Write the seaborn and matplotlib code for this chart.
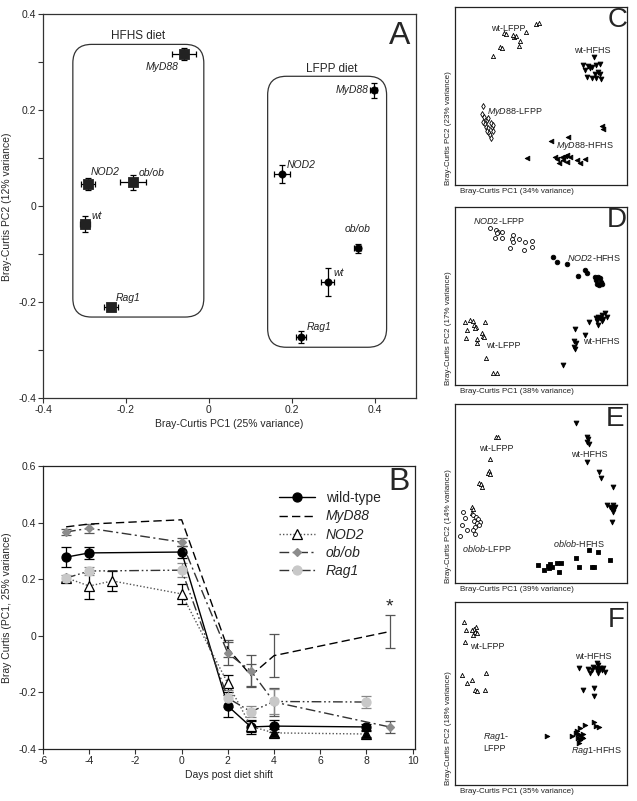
import pandas as pd
import seaborn as sns
import matplotlib.pyplot as plt
from matplotlib.patches import FancyBboxPatch
from matplotlib.lines import Line2D

sns.set_theme(style="ticks")
plt.rcParams['font.family'] = ['Liberation Sans', 'DejaVu Sans']
plt.rcParams['mathtext.fontset'] = 'custom'
plt.rcParams['mathtext.rm'] = 'Liberation Sans'
plt.rcParams['mathtext.it'] = 'Liberation Sans:italic'
plt.rcParams['axes.unicode_minus'] = False

# ---- panel A: centroids (mean +/- sem) ----
a_names = ['MyD88', 'NOD2', 'ob/ob', 'wt', 'Rag1']
hfhs_x = [-0.060, -0.292, -0.183, -0.299, -0.236]
hfhs_y = [0.317, 0.046, 0.050, -0.037, -0.210]
hfhs_xerr = [0.029, 0.017, 0.031, 0.012, 0.017]
hfhs_yerr = [0.012, 0.012, 0.016, 0.017, 0.006]
lfpp_x = [0.398, 0.176, 0.359, 0.287, 0.222]
lfpp_y = [0.242, 0.067, -0.088, -0.158, -0.273]
lfpp_xerr = [0.008, 0.019, 0.009, 0.016, 0.012]
lfpp_yerr = [0.016, 0.018, 0.010, 0.029, 0.013]

# ---- panel B: time course ----
days_wt = [-5, -4, 0, 2, 3, 4, 8]
wt_mean = [0.278, 0.293, 0.296, -0.248, -0.322, -0.319, -0.322]
wt_err = [0.035, 0.020, 0.020, 0.040, 0.025, 0.020, 0.010]
days_myd = [-5, -4, 0, 2, 3, 4, 9]
myd_mean = [0.385, 0.395, 0.410, -0.045, -0.140, -0.070, 0.015]
myd_err = [0.0, 0.0, 0.0, 0.030, 0.040, 0.075, 0.058]
days_nod = [-5, -4, -3, 0, 2, 3, 4, 8]
nod_mean = [0.205, 0.176, 0.194, 0.148, -0.168, -0.320, -0.343, -0.347]
nod_err = [0.0, 0.046, 0.034, 0.034, 0.030, 0.020, 0.015, 0.010]
days_ob = [-5, -4, 0, 2, 3, 4, 9]
ob_mean = [0.367, 0.380, 0.331, -0.062, -0.124, -0.234, -0.322]
ob_err = [0.010, 0.015, 0.015, 0.040, 0.055, 0.050, 0.020]
days_rag = [-5, -4, 0, 2, 3, 4, 8]
rag_mean = [0.204, 0.229, 0.232, -0.220, -0.268, -0.232, -0.234]
rag_err = [0.012, 0.015, 0.025, 0.030, 0.020, 0.045, 0.020]

# ---- panels C-F: individual samples ----
c_wt_lfpp_x = [0.469, 0.490, 0.413, 0.287, 0.345, 0.355, 0.378, 0.262, 0.271, 0.374, 0.223, 0.296, 0.340]
c_wt_lfpp_y = [0.904, 0.912, 0.861, 0.856, 0.833, 0.837, 0.811, 0.777, 0.768, 0.783, 0.725, 0.850, 0.845]
c_wt_hfhs_x = [0.808, 0.746, 0.775, 0.795, 0.820, 0.843, 0.756, 0.785, 0.833, 0.814, 0.843, 0.766, 0.795, 0.820, 0.847]
c_wt_hfhs_y = [0.717, 0.674, 0.669, 0.665, 0.674, 0.680, 0.646, 0.656, 0.637, 0.624, 0.624, 0.609, 0.600, 0.603, 0.598]
c_myd_lfpp_x = [0.161, 0.155, 0.169, 0.184, 0.194, 0.165, 0.174, 0.207, 0.180, 0.194, 0.213, 0.188, 0.200, 0.203, 0.207, 0.223, 0.219]
c_myd_lfpp_y = [0.444, 0.399, 0.380, 0.365, 0.375, 0.356, 0.343, 0.350, 0.328, 0.318, 0.324, 0.305, 0.294, 0.281, 0.262, 0.337, 0.305]
c_myd_hfhs_x = [0.853, 0.859, 0.659, 0.556, 0.420, 0.581, 0.595, 0.620, 0.640, 0.649, 0.669, 0.630, 0.649, 0.708, 0.727, 0.756, 0.607]
c_myd_hfhs_y = [0.331, 0.316, 0.272, 0.249, 0.150, 0.159, 0.144, 0.159, 0.163, 0.167, 0.159, 0.140, 0.131, 0.140, 0.122, 0.144, 0.125]

d_nod_lfpp_x = [0.203, 0.238, 0.252, 0.271, 0.233, 0.271, 0.335, 0.330, 0.339, 0.374, 0.407, 0.446, 0.320, 0.401, 0.446, 0.246]
d_nod_lfpp_y = [0.880, 0.871, 0.861, 0.861, 0.824, 0.824, 0.843, 0.819, 0.805, 0.819, 0.805, 0.811, 0.771, 0.758, 0.777, 0.852]
d_nod_hfhs_x = [0.572, 0.595, 0.649, 0.756, 0.766, 0.717, 0.814, 0.833, 0.843, 0.820, 0.847, 0.824, 0.839, 0.853]
d_nod_hfhs_y = [0.721, 0.693, 0.680, 0.646, 0.631, 0.612, 0.605, 0.608, 0.599, 0.590, 0.580, 0.567, 0.562, 0.567]
d_wt_hfhs_x = [0.872, 0.853, 0.833, 0.820, 0.843, 0.862, 0.827, 0.853, 0.882, 0.781, 0.833, 0.698, 0.756, 0.692, 0.703, 0.692, 0.699, 0.630]
d_wt_hfhs_y = [0.403, 0.393, 0.384, 0.374, 0.374, 0.369, 0.361, 0.361, 0.380, 0.356, 0.337, 0.313, 0.281, 0.249, 0.234, 0.215, 0.200, 0.112]
d_wt_lfpp_x = [0.087, 0.106, 0.110, 0.122, 0.116, 0.174, 0.155, 0.161, 0.169, 0.130, 0.126, 0.180, 0.223, 0.246, 0.058, 0.070, 0.064]
d_wt_lfpp_y = [0.365, 0.361, 0.337, 0.328, 0.318, 0.356, 0.290, 0.275, 0.271, 0.256, 0.238, 0.150, 0.069, 0.069, 0.354, 0.309, 0.264]

e_wt_hfhs_x = [0.703, 0.766, 0.775, 0.769, 0.779, 0.766, 0.839, 0.847, 0.917, 0.882, 0.901, 0.920, 0.930, 0.911, 0.924, 0.917, 0.911]
e_wt_hfhs_y = [0.896, 0.817, 0.802, 0.789, 0.777, 0.678, 0.622, 0.585, 0.538, 0.436, 0.426, 0.436, 0.426, 0.412, 0.417, 0.398, 0.342]
e_ob_hfhs_x = [0.781, 0.833, 0.484, 0.517, 0.543, 0.552, 0.562, 0.548, 0.595, 0.614, 0.607, 0.703, 0.723, 0.795, 0.808, 0.901]
e_ob_hfhs_y = [0.184, 0.171, 0.101, 0.073, 0.095, 0.106, 0.091, 0.082, 0.110, 0.113, 0.063, 0.138, 0.091, 0.091, 0.091, 0.128]
e_wt_lfpp_x = [0.238, 0.252, 0.203, 0.199, 0.194, 0.203, 0.141, 0.149, 0.155, 0.097, 0.103, 0.097]
e_wt_lfpp_y = [0.814, 0.814, 0.691, 0.626, 0.613, 0.609, 0.560, 0.551, 0.538, 0.426, 0.412, 0.393]
e_ob_lfpp_x = [0.106, 0.122, 0.136, 0.110, 0.145, 0.126, 0.141, 0.116, 0.103, 0.116, 0.047, 0.058, 0.041, 0.070, 0.029]
e_ob_lfpp_y = [0.380, 0.367, 0.356, 0.348, 0.342, 0.333, 0.324, 0.315, 0.296, 0.274, 0.397, 0.363, 0.324, 0.296, 0.263]

f_wt_lfpp_x = [0.122, 0.110, 0.116, 0.126, 0.106, 0.097, 0.180, 0.097, 0.116, 0.126, 0.174, 0.052, 0.064, 0.058, 0.041, 0.070]
f_wt_lfpp_y = [0.865, 0.851, 0.838, 0.829, 0.820, 0.847, 0.610, 0.574, 0.519, 0.515, 0.519, 0.891, 0.847, 0.781, 0.601, 0.557]
f_wt_hfhs_x = [0.824, 0.833, 0.804, 0.820, 0.843, 0.859, 0.795, 0.830, 0.853, 0.872, 0.723, 0.775, 0.785, 0.833, 0.746, 0.808, 0.810]
f_wt_hfhs_y = [0.665, 0.656, 0.647, 0.638, 0.641, 0.638, 0.628, 0.628, 0.628, 0.619, 0.638, 0.632, 0.610, 0.610, 0.519, 0.528, 0.486]
f_rag_hfhs_x = [0.808, 0.818, 0.839, 0.756, 0.727, 0.711, 0.703, 0.717, 0.727, 0.746, 0.736, 0.717, 0.746, 0.727, 0.678, 0.537, 0.723]
f_rag_hfhs_y = [0.346, 0.322, 0.319, 0.328, 0.310, 0.297, 0.286, 0.279, 0.273, 0.277, 0.264, 0.255, 0.255, 0.246, 0.268, 0.268, 0.228]

fig = plt.figure(figsize=(6.37, 8.01), dpi=100)

TICK = 7.5

def style_box(ax, color='#333333'):
    for s in ax.spines.values():
        s.set_visible(True)
        s.set_color(color)
        s.set_linewidth(0.9)

# ================= A =================
axA = fig.add_axes([0.0675, 0.503, 0.5856, 0.479])
hf = pd.DataFrame({'name': a_names, 'x': hfhs_x, 'y': hfhs_y, 'xe': hfhs_xerr, 'ye': hfhs_yerr})
lf = pd.DataFrame({'name': a_names, 'x': lfpp_x, 'y': lfpp_y, 'xe': lfpp_xerr, 'ye': lfpp_yerr})
axA.errorbar(hf.x, hf.y, xerr=hf.xe, yerr=hf.ye, fmt='none', ecolor='black', elinewidth=0.9, capsize=2.5, capthick=0.9)
axA.errorbar(lf.x, lf.y, xerr=lf.xe, yerr=lf.ye, fmt='none', ecolor='black', elinewidth=0.9, capsize=2.5, capthick=0.9)
sns.scatterplot(data=hf, x='x', y='y', ax=axA, marker='s', s=55, color='#222222', edgecolor='#222222', zorder=3, legend=False)
sns.scatterplot(data=lf, x='x', y='y', ax=axA, marker='o', s=28, color='black', edgecolor='black', zorder=3, legend=False)

hf_off = {'MyD88': (-16, -9, 'center'), 'NOD2': (2, 9, 'left'), 'ob/ob': (4, 6.5, 'left'),
          'wt': (5, 6, 'left'), 'Rag1': (3.5, 6.5, 'left')}
lf_off = {'MyD88': (-4, 0, 'right'), 'NOD2': (3.5, 6.5, 'left'), 'ob/ob': (0, 14, 'center'),
          'wt': (4.3, 6.5, 'left'), 'Rag1': (4.3, 7, 'left')}
for df, offs in ((hf, hf_off), (lf, lf_off)):
    for _, r in df.iterrows():
        dx, dy, ha = offs[r['name']]
        axA.annotate(r['name'], (r.x, r.y), xytext=(dx, dy), textcoords='offset points',
                     ha=ha, va='center', fontsize=7.5, style='italic', color='#222222')

for x0, y0, w, h in ((-0.328, -0.231, 0.316, 0.5685), (0.142, -0.294, 0.287, 0.565)):
    axA.add_patch(FancyBboxPatch((x0, y0), w, h, boxstyle='round,pad=0,rounding_size=0.045',
                                 mutation_aspect=0.865, fill=False, ec='#333333', lw=0.9))
axA.text(-0.171, 0.356, 'HFHS diet', ha='center', va='center', fontsize=8.5)
axA.text(0.296, 0.287, 'LFPP diet', ha='center', va='center', fontsize=8.5)
axA.text(0.957, 0.945, 'A', transform=axA.transAxes, ha='center', va='center', fontsize=23)

axA.set_xlim(-0.4, 0.5)
axA.set_ylim(-0.4, 0.4)
axA.set_xticks([-0.4, -0.2, 0, 0.2, 0.4])
axA.set_xticklabels(['-0.4', '-0.2', '0', '0.2', '0.4'])
axA.set_yticks([-0.4, -0.2, 0, 0.2, 0.4])
axA.set_yticklabels(['-0.4', '-0.2', '0', '0.2', '0.4'])
axA.set_yticks([-0.3, -0.1, 0.1, 0.3], minor=True)
axA.tick_params(which='both', direction='out', length=3.5, width=0.8, labelsize=TICK, pad=1.5, color='#333333')
axA.set_xlabel('Bray-Curtis PC1 (25% variance)', fontsize=7.5, labelpad=3)
axA.set_ylabel('Bray-Curtis PC2 (12% variance)', fontsize=7.5, labelpad=4)
style_box(axA)

# ================= B =================
axB = fig.add_axes([0.0675, 0.0649, 0.584, 0.3533])
series = [
    ('wild-type', days_wt, wt_mean, wt_err, dict(color='black', linestyle='-', marker='o', markersize=6.5,
                                                mfc='black', mec='black'), 'black'),
    ('MyD88', days_myd, myd_mean, myd_err, dict(color='black', linestyle=(0, (6, 3)), marker=None), '#555555'),
    ('NOD2', days_nod, nod_mean, nod_err, dict(color='#555555', linestyle=(0, (1, 1.5)), marker='^', markersize=6.5,
                                               mfc='white', mec='black'), 'black'),
    ('ob/ob', days_ob, ob_mean, ob_err, dict(color='#333333', linestyle=(0, (7, 2.5, 1.5, 2.5)), marker='D',
                                             markersize=4.5, mfc='#8c8c8c', mec='#8c8c8c'), '#555555'),
    ('Rag1', days_rag, rag_mean, rag_err, dict(color='#333333', linestyle=(0, (7, 2, 1.2, 2, 1.2, 2)), marker='o',
                                               markersize=6.5, mfc='#c8c8c8', mec='#c8c8c8'), '#888888'),
]
frames = []
for name, d, m, e, _, _ in series:
    frames.append(pd.DataFrame({'strain': name, 'day': d, 'pc1': m, 'err': e}))
dfB = pd.concat(frames, ignore_index=True)

for name, _, _, _, kw, ecol in series:
    sub = dfB[dfB.strain == name]
    bars = sub[sub.err > 0]
    axB.errorbar(bars.day, bars.pc1, yerr=bars.err, fmt='none', ecolor=ecol, elinewidth=0.9,
                 capsize=3.5, capthick=0.9, zorder=2)
    kw = dict(kw)
    mk = kw.pop('marker')
    if mk is None:
        sns.lineplot(data=sub, x='day', y='pc1', ax=axB, estimator=None, sort=False, lw=1.0,
                     color=kw['color'], linestyle=kw['linestyle'], zorder=3)
    else:
        sns.lineplot(data=sub, x='day', y='pc1', ax=axB, estimator=None, sort=False, lw=1.0,
                     color=kw['color'], linestyle=kw['linestyle'], marker=mk, markersize=kw['markersize'],
                     markerfacecolor=kw['mfc'], markeredgecolor=kw['mec'], markeredgewidth=0.9, zorder=3)
# NOD2 triangles at late days look filled (overlap)
late = dfB[(dfB.strain == 'NOD2') & (dfB.day >= 4)]
sns.scatterplot(data=late, x='day', y='pc1', ax=axB, marker='^', s=40, color='black', edgecolor='black',
                zorder=4, legend=False)
last = dfB[dfB.strain == 'MyD88'].iloc[-1]
axB.annotate('*', (last.day, last.pc1 + last.err), xytext=(0, 0), textcoords='offset points',
             ha='center', va='bottom', fontsize=14)

handles = []
for name, _, _, _, kw, _ in series:
    if kw['marker'] is None:
        handles.append(Line2D([], [], color=kw['color'], linestyle=kw['linestyle'], lw=1.0))
    else:
        handles.append(Line2D([], [], color=kw['color'], linestyle=kw['linestyle'], lw=1.0, marker=kw['marker'],
                              markersize=kw['markersize'], mfc=kw['mfc'], mec=kw['mec'], mew=0.9))
leg = axB.legend(handles, [s[0] for s in series], loc='upper left', bbox_to_anchor=(0.6, 0.955),
                 frameon=False, fontsize=10, handlelength=2.6, labelspacing=0.3, handletextpad=0.8)
for t in leg.get_texts()[1:]:
    t.set_fontstyle('italic')
axB.text(0.957, 0.943, 'B', transform=axB.transAxes, ha='center', va='center', fontsize=23)

axB.set_xlim(-6, 10.1)
axB.set_ylim(-0.4, 0.6)
axB.set_xticks(range(-6, 11, 2))
axB.set_yticks([-0.4, -0.2, 0, 0.2, 0.4, 0.6])
axB.set_yticklabels(['-0.4', '-0.2', '0', '0.2', '0.4', '0.6'])
axB.tick_params(direction='out', length=3.5, width=0.8, labelsize=TICK, pad=1.5, color='#333333')
axB.set_xlabel('Days post diet shift', fontsize=7.5, labelpad=3)
axB.set_ylabel('Bray Curtis (PC1, 25% variance)', fontsize=7.5, labelpad=4)
style_box(axB, '#222222')

# ================= C-F =================
def pcoa_panel(rect, groups, labels, letter, lpos, xpct, ypct):
    ax = fig.add_axes(rect)
    for xs, ys, mk, filled, size in groups:
        sns.scatterplot(x=xs, y=ys, ax=ax, marker=mk, s=size,
                        color='black' if filled else 'white', edgecolor='black',
                        linewidth=0.6, legend=False)
    for txt, u, v, ha in labels:
        ax.text(u, v, txt, transform=ax.transAxes, ha=ha, va='center', fontsize=6.5, color='#222222')
    ax.text(lpos[0], lpos[1], letter, transform=ax.transAxes, ha='center', va='center', fontsize=20)
    ax.set_xlim(0, 1)
    ax.set_ylim(0, 1)
    ax.set_xticks([])
    ax.set_yticks([])
    ax.set_xlabel('')
    ax.set_ylabel('')
    ax.text(0.03, -0.015, f'Bray-Curtis PC1 ({xpct}% variance)', transform=ax.transAxes,
            ha='left', va='top', fontsize=5.8, color='#222222')
    ax.text(-0.02, 0.0, f'Bray-Curtis PC2 ({ypct}% variance)', transform=ax.transAxes, rotation=90,
            ha='right', va='bottom', fontsize=5.8, color='#222222')
    style_box(ax, '#222222')
    return ax

pcoa_panel([0.7143, 0.769, 0.270, 0.2222],
           [(c_wt_lfpp_x, c_wt_lfpp_y, '^', False, 9), (c_wt_hfhs_x, c_wt_hfhs_y, 'v', True, 12),
            (c_myd_lfpp_x, c_myd_lfpp_y, 'd', False, 9), (c_myd_hfhs_x, c_myd_hfhs_y, '<', True, 11)],
           [('wt-LFPP', 0.209, 0.882, 'left'), ('wt-HFHS', 0.80, 0.758, 'center'),
            (r'$\it{MyD88}$-LFPP', 0.188, 0.412, 'left'), (r'$\it{MyD88}$-HFHS', 0.587, 0.219, 'left')],
           'C', (0.948, 0.93), 34, 23)

pcoa_panel([0.7143, 0.5194, 0.270, 0.2222],
           [(d_nod_lfpp_x, d_nod_lfpp_y, 'o', False, 8), (d_nod_hfhs_x, d_nod_hfhs_y, 'o', True, 11),
            (d_wt_hfhs_x, d_wt_hfhs_y, 'v', True, 12), (d_wt_lfpp_x, d_wt_lfpp_y, '^', False, 9)],
           [(r'$\it{NOD2}$-LFPP', 0.105, 0.92, 'left'), (r'$\it{NOD2}$-HFHS', 0.653, 0.712, 'left'),
            ('wt-HFHS', 0.746, 0.243, 'left'), ('wt-LFPP', 0.180, 0.221, 'left')],
           'D', (0.94, 0.925), 38, 17)

pcoa_panel([0.7143, 0.2722, 0.270, 0.2235],
           [(e_wt_hfhs_x, e_wt_hfhs_y, 'v', True, 12), (e_ob_hfhs_x, e_ob_hfhs_y, 's', True, 9),
            (e_wt_lfpp_x, e_wt_lfpp_y, '^', False, 9), (e_ob_lfpp_x, e_ob_lfpp_y, 'o', False, 8)],
           [('wt-HFHS', 0.781, 0.715, 'center'), (r'$\it{ob/ob}$-HFHS', 0.568, 0.218, 'left'),
            ('wt-LFPP', 0.242, 0.752, 'center'), (r'$\it{ob/ob}$-LFPP', 0.186, 0.19, 'center')],
           'E', (0.93, 0.915), 39, 14)

pcoa_panel([0.7143, 0.02, 0.270, 0.2285],
           [(f_wt_lfpp_x, f_wt_lfpp_y, '^', False, 9), (f_wt_hfhs_x, f_wt_hfhs_y, 'v', True, 12),
            (f_rag_hfhs_x, f_rag_hfhs_y, '>', True, 11)],
           [('wt-LFPP', 0.087, 0.756, 'left'), ('wt-HFHS', 0.804, 0.701, 'center'),
            (r'$\it{Rag1}$-HFHS', 0.82, 0.188, 'center'), ('$\\it{Rag1}$-\nLFPP', 0.165, 0.235, 'left')],
           'F', (0.94, 0.9), 35, 18)

fig.savefig('out.png', dpi=100)
